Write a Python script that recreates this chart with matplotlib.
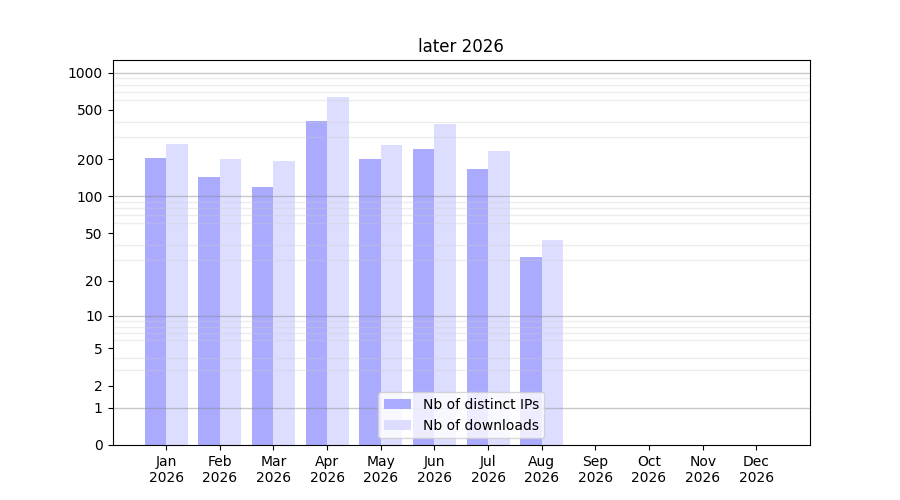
import numpy as np
import matplotlib
matplotlib.use("Agg")
import matplotlib.pyplot as plt
from matplotlib.ticker import FixedLocator, NullFormatter

months = ['Jan', 'Feb', 'Mar', 'Apr', 'May', 'Jun', 'Jul', 'Aug', 'Sep', 'Oct', 'Nov', 'Dec']
year = '2026'
distinct_ips = [205, 144, 119, 407, 200, 242, 166, 32]
downloads = [266, 200, 193, 636, 260, 385, 233, 44]
y_ticks = [0, 1, 2, 5, 10, 20, 50, 100, 200, 500, 1000]


def fwd(v):
    return np.log10(1 + np.clip(v, 0, None))


def inv(v):
    return 10 ** v - 1


fig, ax = plt.subplots(figsize=(9, 5), dpi=100)
ax.set_yscale('function', functions=(fwd, inv))

x_ips = np.arange(len(distinct_ips))
x_dl = np.arange(len(downloads))
ax.bar(x_ips, distinct_ips, width=-0.4, align='edge', color='#aaaaff', label='Nb of distinct IPs')
ax.bar(x_dl, downloads, width=0.4, align='edge', color='#ddddff', label='Nb of downloads')

ax.set_xlim(-1, 12)
ax.set_ylim(0, 1265)
ax.set_xticks(range(len(months)))
ax.set_xticklabels([f'{m}\n{year}' for m in months])

ax.yaxis.set_major_locator(FixedLocator(y_ticks))
ax.set_yticklabels([str(t) for t in y_ticks])
minor = [m * 10 ** k for k in range(3) for m in range(2, 10)]
ax.yaxis.set_minor_locator(FixedLocator(minor))
ax.yaxis.set_minor_formatter(NullFormatter())
ax.tick_params(axis='y', which='minor', length=0)
ax.grid(True, axis='y', which='minor', color='#cccccc', alpha=0.35, linewidth=1)
for d in [1, 10, 100, 1000]:
    ax.axhline(d, color='#888888', alpha=0.45, linewidth=1)

ax.set_title('later 2026')
ax.legend(loc='lower center')

fig.savefig('out.png')
